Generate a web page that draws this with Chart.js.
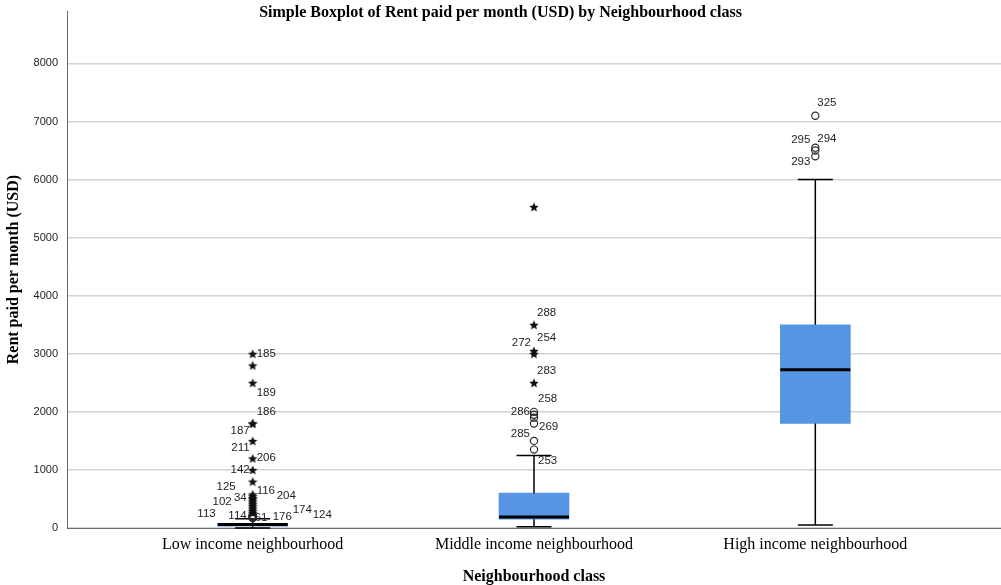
<!DOCTYPE html>
<html>
<head>
<meta charset="utf-8">
<title>Rent paid per month by Neighbourhood class</title>
<script src="https://cdn.jsdelivr.net/npm/chart.js@4.4.1/dist/chart.umd.min.js"></script>
<style>
  html, body { margin: 0; padding: 0; background: #ffffff; overflow: hidden; }
  #wrap { width: 1001px; height: 585px; }
</style>
</head>
<body>
<div id="wrap"><canvas id="c" width="1001" height="585"></canvas></div>
<script>
// Neighbourhood classes on the horizontal axis
const categories = ['Low income neighbourhood', 'Middle income neighbourhood', 'High income neighbourhood'];

// Five-number summaries (USD per month)
const whiskerLow  = [0, 20, 50];
const quartile1   = [30, 150, 1800];
const medians     = [60, 190, 2725];
const quartile3   = [80, 600, 3500];
const whiskerHigh = [160, 1250, 6000];

// Outliers beyond 1.5 IQR (circles): [class index, rent, case number]
const circleOutliers = [
  [0, 170, 61], [0, 180, 176], [0, 190, 114], [0, 200, 113], [0, 210, 174], [0, 220, 124],
  [1, 1350, 253], [1, 1500, 285], [1, 1800, 269], [1, 1900, null], [1, 1950, 286], [1, 2000, 258],
  [2, 6400, 293], [2, 6500, 295], [2, 6550, 294], [2, 7100, 325]
];

// Extreme values beyond 3 IQR (stars): [class index, rent, case number]
const extremeOutliers = [
  [0, 260, null], [0, 290, null], [0, 320, null], [0, 350, null], [0, 380, null],
  [0, 410, null], [0, 440, null], [0, 470, 102], [0, 500, null], [0, 520, 34],
  [0, 550, 204], [0, 580, 116], [0, 800, 125], [0, 1000, 142], [0, 1200, 206],
  [0, 1500, 211], [0, 1800, 187], [0, 1800, 186], [0, 2500, 189], [0, 2800, null], [0, 3000, 185],
  [1, 2500, 283], [1, 3000, 272], [1, 3050, 254], [1, 3500, 288], [1, 5530, null]
];

// Value axis ticks
const yTicks = [0, 1000, 2000, 3000, 4000, 5000, 6000, 7000, 8000];

// Where each case label sits relative to its marker: [dx, dy, align]
const labelPlacement = {
  185: [4, 0, 'left'], 189: [4, 10, 'left'], 186: [4, -12, 'left'], 187: [-3, 7, 'right'],
  211: [-3, 7, 'right'], 206: [4, 0, 'left'], 142: [-3, 0, 'right'], 125: [-17, 5, 'right'],
  116: [4, -3, 'left'], 204: [24, 0, 'left'], 34: [-6, 0, 'right'], 102: [-21, 1, 'right'],
  61: [2, 0, 'left'], 176: [20, -1, 'left'], 114: [-6, -1, 'right'], 113: [-37, -3, 'right'],
  174: [40, -6, 'left'], 124: [60, 0, 'left'],
  288: [3, -12, 'left'], 254: [3, -13, 'left'], 272: [-3, -11, 'right'], 283: [3, -12, 'left'],
  258: [4, -13, 'left'], 286: [-4, -3, 'right'], 269: [5, 3, 'left'], 285: [-4, -7, 'right'],
  253: [4, 11, 'left'],
  325: [2, -13, 'left'], 294: [2, -9, 'left'], 295: [-5, -11, 'right'], 293: [-5, 5, 'right']
};

const BOX_BLUE = '#5595e4';
const SERIF = '"Liberation Serif", "Times New Roman", serif';
const SANS = '"Liberation Sans", Arial, sans-serif';

// Small filled five-point star used for extreme values
function makeStar(size, color) {
  const c = document.createElement('canvas');
  c.width = size; c.height = size;
  const g = c.getContext('2d');
  const r = size / 2, ri = r * 0.45;
  g.beginPath();
  for (let k = 0; k < 10; k++) {
    const a = -Math.PI / 2 + k * Math.PI / 5;
    const rr = k % 2 ? ri : r;
    g.lineTo(r + rr * Math.cos(a), r + 0.5 + rr * Math.sin(a));
  }
  g.closePath();
  g.fillStyle = color;
  g.fill();
  return c;
}
const starImage = makeStar(10, '#111111');

// Whisker stems, caps and median bars, drawn right after the boxes
const boxParts = {
  id: 'boxParts',
  afterDatasetDraw(chart, args) {
    if (args.index !== 0) return;
    const { ctx, scales: { x, y } } = chart;
    const bars = chart.getDatasetMeta(0).data;
    const seg = (x1, y1, x2, y2) => { ctx.beginPath(); ctx.moveTo(x1, y1); ctx.lineTo(x2, y2); ctx.stroke(); };
    ctx.save();
    ctx.strokeStyle = '#000000';
    categories.forEach((_, i) => {
      const cx = x.getPixelForValue(i);
      const half = bars[i].width / 2;
      const capHalf = half / 2;
      const yMin = y.getPixelForValue(whiskerLow[i]);
      const yQ1 = y.getPixelForValue(quartile1[i]);
      const yMed = y.getPixelForValue(medians[i]);
      const yQ3 = y.getPixelForValue(quartile3[i]);
      const yMax = y.getPixelForValue(whiskerHigh[i]);
      ctx.lineWidth = 1.5;
      seg(cx, yQ3, cx, yMax);
      seg(cx, yQ1, cx, yMin);
      seg(cx - capHalf, yMax, cx + capHalf, yMax);
      seg(cx - capHalf, yMin, cx + capHalf, yMin);
      ctx.lineWidth = 3;
      seg(cx - half, yMed, cx + half, yMed);
    });
    ctx.restore();
  }
};

// Case numbers beside the outlying markers
const caseLabels = {
  id: 'caseLabels',
  afterDatasetsDraw(chart) {
    const { ctx, scales: { x, y } } = chart;
    ctx.save();
    ctx.font = '11.5px ' + SANS;
    ctx.fillStyle = '#1e1e1e';
    ctx.textBaseline = 'middle';
    [...circleOutliers, ...extremeOutliers].forEach(([g, v, id]) => {
      if (id === null || !labelPlacement[id]) return;
      const [dx, dy, align] = labelPlacement[id];
      ctx.textAlign = align;
      ctx.fillText(String(id), x.getPixelForValue(g) + dx, y.getPixelForValue(v) + dy);
    });
    ctx.restore();
  }
};

const toPoints = list => list.map(([g, v]) => ({ x: g, y: v }));

new Chart(document.getElementById('c'), {
  type: 'bar',
  data: {
    datasets: [
      {
        type: 'bar',
        label: 'Interquartile range',
        data: categories.map((_, i) => ({ x: i, y: [quartile1[i], quartile3[i]] })),
        backgroundColor: BOX_BLUE,
        borderWidth: 0,
        barThickness: 70,
        order: 3
      },
      {
        type: 'scatter',
        label: 'Outliers',
        data: toPoints(circleOutliers),
        pointStyle: 'circle',
        pointRadius: 3.6,
        pointBorderWidth: 1.2,
        pointBorderColor: '#2a2a2a',
        pointBackgroundColor: 'rgba(0,0,0,0)',
        clip: false,
        order: 2
      },
      {
        type: 'scatter',
        label: 'Extremes',
        data: toPoints(extremeOutliers),
        pointStyle: starImage,
        pointRadius: 4,
        clip: false,
        order: 1
      }
    ]
  },
  options: {
    responsive: false,
    animation: false,
    devicePixelRatio: 1,
    layout: { autoPadding: false, padding: { left: 0, right: 0, top: 0, bottom: 0 } },
    plugins: {
      legend: { display: false },
      tooltip: { enabled: false },
      title: {
        display: true,
        text: 'Simple Boxplot of Rent paid per month (USD) by Neighbourhood class',
        color: '#000000',
        font: { family: SERIF, size: 16, weight: 'bold', lineHeight: 1.2 },
        padding: { top: 3, bottom: -11 }
      }
    },
    scales: {
      x: {
        type: 'linear',
        min: -0.66,
        max: 2.66,
        offset: false,
        afterBuildTicks: s => { s.ticks = categories.map((_, i) => ({ value: i })); },
        afterFit: s => { s.height = 57; s.paddingLeft = 0; s.paddingRight = 0; },
        ticks: {
          autoSkip: false,
          maxRotation: 0,
          padding: 7,
          color: '#000000',
          font: { family: SERIF, size: 16 },
          callback: v => categories[Math.round(v)]
        },
        grid: { display: false, drawTicks: false },
        border: { display: true, color: '#6a6a6a', width: 1 },
        title: {
          display: true,
          text: 'Neighbourhood class',
          color: '#000000',
          font: { family: SERIF, size: 16, weight: 'bold', lineHeight: 1 },
          padding: { top: 0, bottom: 0 }
        }
      },
      y: {
        type: 'linear',
        min: 0,
        max: 8900,
        afterBuildTicks: s => { s.ticks = yTicks.map(v => ({ value: v })); },
        afterFit: s => { s.width = 67; s.paddingTop = 0; s.paddingBottom = 0; },
        ticks: {
          padding: 9,
          color: '#1e1e1e',
          font: { family: SANS, size: 11 },
          callback: v => String(v)
        },
        grid: { color: '#d2d2d2', lineWidth: 1.5, drawTicks: false },
        border: { display: true, color: '#6a6a6a', width: 1 },
        title: {
          display: true,
          text: 'Rent paid per month (USD)',
          color: '#000000',
          font: { family: SERIF, size: 16, weight: 'bold', lineHeight: 1.2 },
          padding: { top: 4, bottom: 0 }
        }
      }
    }
  },
  plugins: [boxParts, caseLabels]
});
</script>
</body>
</html>
